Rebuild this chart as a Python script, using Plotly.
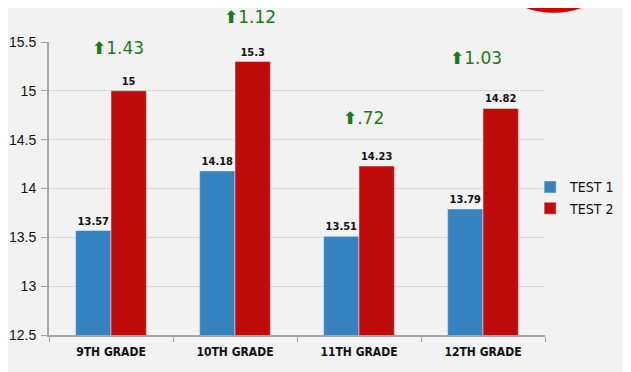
import plotly.graph_objects as go

grades = ["9TH GRADE", "10TH GRADE", "11TH GRADE", "12TH GRADE"]
test1 = [13.57, 14.18, 13.51, 13.79]
test2 = [15, 15.3, 14.23, 14.82]
gains = ["1.43", "1.12", ".72", "1.03"]
y_ticks = [12.5, 13, 13.5, 14, 14.5, 15, 15.5]

# annotation placement (layout only)
gain_paper_y = [0.98, 1.085, 0.74, 0.945]
gain_xshift = [7, 15, 4, -7]

BG = "#f2f2f2"
fig = go.Figure()
for name, vals, col in [("TEST 1", test1, "#3783bf"), ("TEST 2", test2, "#c00b0b")]:
    fig.add_trace(go.Bar(name=name, x=grades, y=vals, marker_color=col,
                         text=[f"{v:g}" for v in vals], textposition="outside",
                         textfont=dict(size=11, color="#111", family="DejaVu Sans Condensed",
                                       weight="bold"),
                         cliponaxis=False))

for g, txt, py, xs in zip(grades, gains, gain_paper_y, gain_xshift):
    fig.add_annotation(x=g, y=py, xref="x", yref="paper", showarrow=False, xshift=xs,
                       text="<b>⬆</b>" + txt,
                       font=dict(size=17, color="#1a7a1a", family="DejaVu Sans"),
                       yanchor="middle")

# red logo fragment top right
fig.add_shape(type="circle", xref="paper", yref="paper", x0=0.93, x1=1.105, y0=1.11, y1=1.26,
              line=dict(color="#d40000", width=6), fillcolor="rgba(0,0,0,0)")

# page body has an 8px margin, so the figure is sized/offset to compensate
fig.update_layout(
    width=623, height=364,
    margin=dict(l=41, r=86, t=34, b=37, autoexpand=False),
    paper_bgcolor=BG, plot_bgcolor=BG,
    barmode="group", bargap=0.43, bargroupgap=0,
    font=dict(family="DejaVu Sans", color="#111"),
    showlegend=True,
    legend=dict(x=0.97, y=0.468, xanchor="left", yanchor="middle",
                font=dict(size=14, family="DejaVu Sans Condensed"),
                bgcolor="rgba(0,0,0,0)", itemwidth=30),
)
fig.update_xaxes(showline=True, linecolor="#a6a6a6", linewidth=2, automargin=False,
                 ticks="outside", tickson="boundaries", ticklen=5, tickcolor="#a6a6a6",
                 ticklabelstandoff=5,
                 tickfont=dict(size=12, family="DejaVu Sans Condensed", color="#111",
                               weight="bold"))
fig.update_yaxes(range=[12.5, 15.5], tickvals=y_ticks, ticktext=[f"{v:g}" for v in y_ticks],
                 showline=True, linecolor="#a6a6a6", linewidth=2, automargin=False,
                 ticks="outside", ticklen=6, tickcolor="#a6a6a6",
                 ticklabelstandoff=2,
                 gridcolor="#d9d9d9", gridwidth=1, zeroline=False,
                 tickfont=dict(size=14, family="Liberation Sans", color="#111"))

fig.write_html("out.html")
